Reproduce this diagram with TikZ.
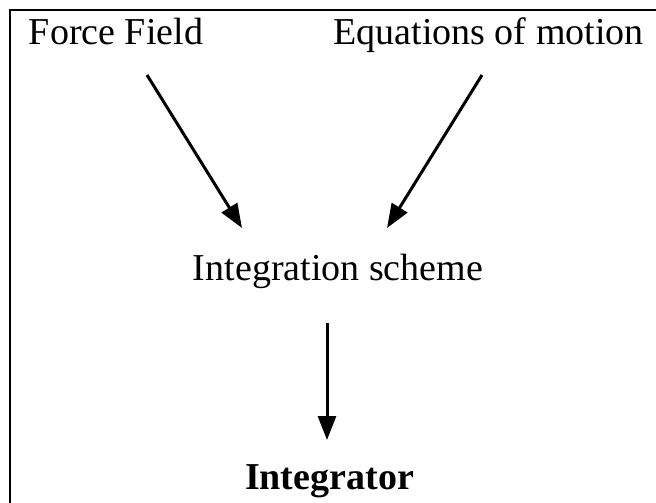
\documentclass[tikz,border=0pt]{standalone}
\usepackage{fontspec}
\setmainfont{Liberation Serif}
\usetikzlibrary{arrows.meta}

\tikzset{
  label/.style={inner sep=0pt, anchor=base, font=\fontsize{38}{46}\selectfont},
  flow/.style={line width=3pt, -{Triangle[length=24pt, width=18pt]}},
  frame/.style={line width=2.8pt}
}

\begin{document}
\begin{tikzpicture}[x=1pt, y=-1pt]
	\useasboundingbox (0,0) rectangle (656,503);
	% frame, open to the right and bottom
	\draw[frame] (10,503) -- (10,10) -- (656,10);

	\node[label] (forcefield) at (116,45) {Force Field};
	\node[label] (eqmotion) at (488.5,45) {Equations of motion};
	\node[label] (scheme) at (338,280) {Integration scheme};
	\node[label, font=\fontsize{38}{46}\selectfont\bfseries] (integrator) at (329.5,489) {Integrator};

	% arrow ends
	\coordinate (ff-out) at (147,75);
	\coordinate (eq-out) at (482,75);
	\coordinate (sc-in-l) at (242,228);
	\coordinate (sc-in-r) at (387,228);
	\coordinate (sc-out) at (327,323);
	\coordinate (in-in) at (327,440);

	\draw[flow] (ff-out) -- (sc-in-l);
	\draw[flow] (eq-out) -- (sc-in-r);
	\draw[flow] (sc-out) -- (in-in);
\end{tikzpicture}
\end{document}
